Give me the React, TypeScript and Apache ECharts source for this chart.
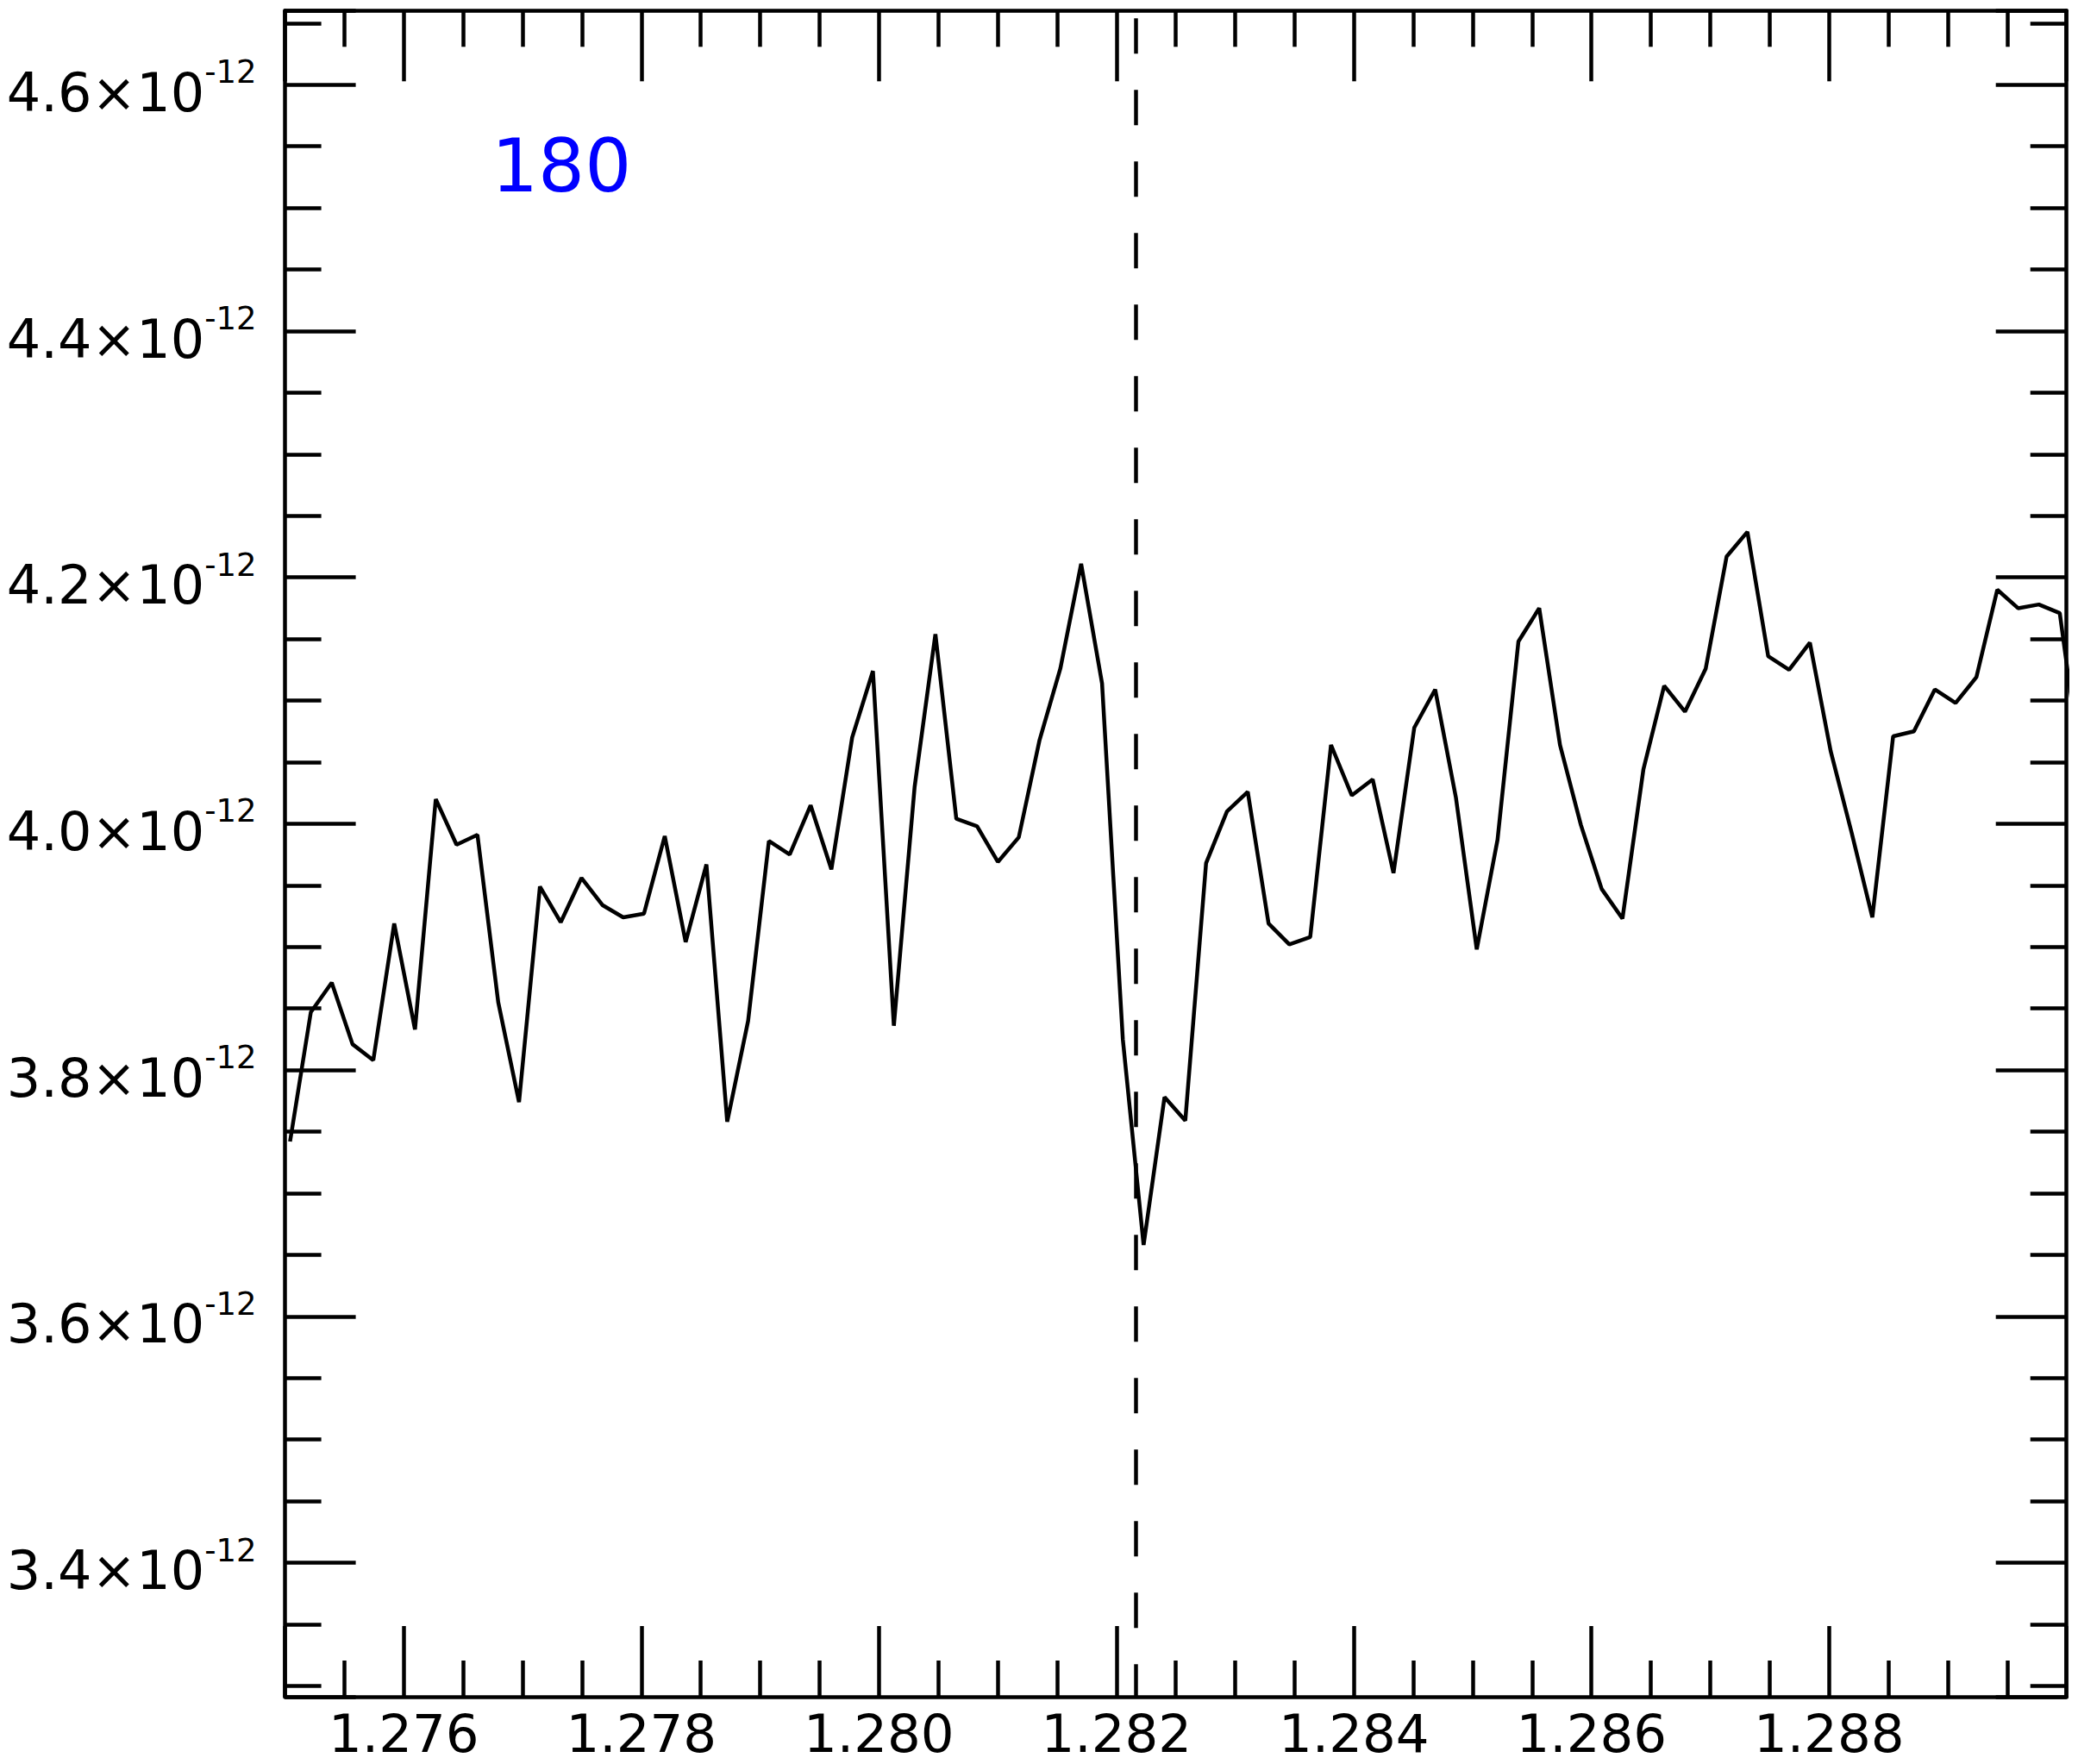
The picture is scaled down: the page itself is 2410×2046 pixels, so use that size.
import React, { useEffect, useRef } from "react";
import * as echarts from "echarts";

// wavelength (micron)
const wavelength: number[] = [
  1.275042, 1.275217, 1.275393, 1.275568, 1.275743, 1.275919, 1.276094, 1.276269, 1.276444, 1.27662,
  1.276795, 1.27697, 1.277146, 1.277321, 1.277496, 1.277672, 1.277847, 1.278022, 1.278197, 1.278373,
  1.278548, 1.278723, 1.278899, 1.279074, 1.279249, 1.279425, 1.2796, 1.279775, 1.27995, 1.280126,
  1.280301, 1.280476, 1.280652, 1.280827, 1.281002, 1.281178, 1.281353, 1.281528, 1.281703, 1.281879,
  1.282054, 1.282229, 1.282405, 1.28258, 1.282755, 1.282931, 1.283106, 1.283281, 1.283456, 1.283632,
  1.283807, 1.283982, 1.284158, 1.284333, 1.284508, 1.284684, 1.284859, 1.285034, 1.285209, 1.285385,
  1.28556, 1.285735, 1.285911, 1.286086, 1.286261, 1.286437, 1.286612, 1.286787, 1.286962, 1.287138,
  1.287313, 1.287488, 1.287664, 1.287839, 1.288014, 1.28819, 1.288365, 1.28854, 1.288715, 1.288891,
  1.289066, 1.289241, 1.289417, 1.289592, 1.289767, 1.289943, 1.290118,
];

// flux in units of 1e-12
const flux: number[] = [
  3.742, 3.847, 3.871, 3.821, 3.808, 3.919, 3.833, 4.02, 3.983, 3.991,
  3.855, 3.774, 3.949, 3.92, 3.956, 3.934, 3.924, 3.927, 3.99, 3.904,
  3.967, 3.758, 3.84, 3.986, 3.975, 4.015, 3.963, 4.07, 4.124, 3.836,
  4.03, 4.154, 4.004, 3.998, 3.969, 3.989, 4.068, 4.126, 4.211, 4.114,
  3.825, 3.658, 3.778, 3.759, 3.968, 4.01, 4.026, 3.919, 3.902, 3.908,
  4.064, 4.023, 4.036, 3.96, 4.078, 4.109, 4.021, 3.898, 3.987, 4.148,
  4.175, 4.064, 3.999, 3.947, 3.923, 4.044, 4.112, 4.091, 4.126, 4.217,
  4.237, 4.136, 4.125, 4.147, 4.059, 3.993, 3.924, 4.071, 4.075, 4.109,
  4.098, 4.119, 4.19, 4.175, 4.178, 4.171, 4.047,
];

const xRange: number[] = [1.275, 1.29];
const yRange: number[] = [3.2912, 4.6602];
const refLine: number = 1.28216;
const labelText: string = "180";
const exponentText: string = "-12";

const FONT = "DejaVu Sans";

export default function App() {
  const ref = useRef<HTMLDivElement>(null);

  useEffect(() => {
    document.body.style.margin = "0";
    if (!ref.current) return;
    const chart = echarts.init(ref.current, null, { renderer: "svg" });

    const lineW = 4.5;
    const axisCommon = {
      axisLine: { show: true, onZero: false, lineStyle: { color: "#000", width: lineW } },
      axisTick: { show: true, inside: true, length: 82, lineStyle: { color: "#000", width: lineW } },
      minorTick: { show: true, splitNumber: 4, length: 42, lineStyle: { color: "#000", width: lineW } },
      splitLine: { show: false },
      minorSplitLine: { show: false },
    };

    const xBase = {
      type: "value" as const,
      min: xRange[0],
      max: xRange[1],
      splitNumber: 7,
      ...axisCommon,
    };
    const yBase = {
      type: "value" as const,
      min: yRange[0],
      max: yRange[1],
      splitNumber: 7,
      ...axisCommon,
    };

    chart.setOption({
      animation: false,
      backgroundColor: "#fff",
      grid: { left: 330.6, top: 12.3, right: 13.3, bottom: 78, containLabel: false },
      xAxis: [
        {
          ...xBase,
          position: "bottom",
          axisLabel: {
            show: true,
            showMinLabel: false,
            showMaxLabel: false,
            margin: 12,
            color: "#000",
            fontSize: 61,
            fontFamily: FONT,
            formatter: (v: number) => v.toFixed(3),
          },
        },
        { ...xBase, position: "top", axisLabel: { show: false } },
      ],
      yAxis: [
        {
          ...yBase,
          position: "left",
          axisLabel: {
            show: true,
            showMinLabel: false,
            showMaxLabel: false,
            margin: 33,
            padding: [7, 0, 0, 0],
            formatter: (v: number) => `{a|${v.toFixed(1)}×10}{b|${exponentText}}`,
            rich: {
              a: { fontSize: 62, fontFamily: FONT, color: "#000", lineHeight: 73, verticalAlign: "bottom" },
              b: { fontSize: 37, fontFamily: FONT, color: "#000", lineHeight: 37, verticalAlign: "top" },
            },
          },
        },
        { ...yBase, position: "right", axisLabel: { show: false } },
      ],
      series: [
        {
          type: "line",
          xAxisIndex: 0,
          yAxisIndex: 0,
          data: wavelength.map((w, i) => [w, flux[i]]),
          showSymbol: false,
          symbol: "none",
          clip: true,
          lineStyle: { color: "#000", width: lineW },
          emphasis: { disabled: true },
          silent: true,
          markLine: {
            silent: true,
            symbol: ["none", "none"],
            label: { show: false },
            emphasis: { disabled: true },
            lineStyle: { color: "#000", width: lineW, type: [41, 42], dashOffset: 74.3 },
            data: [[{ coord: [refLine, yRange[1]] }, { coord: [refLine, yRange[0]] }]],
          },
        },
      ],
      graphic: [
        {
          type: "text",
          x: 570,
          y: 192,
          style: {
            text: labelText,
            fill: "#0000ff",
            fontSize: 85,
            fontFamily: FONT,
            textAlign: "left",
            textVerticalAlign: "middle",
            align: "left",
            verticalAlign: "middle",
          },
        },
      ],
    });

    return () => chart.dispose();
  }, []);

  return <div ref={ref} style={{ width: 2410, height: 2046 }} />;
}
